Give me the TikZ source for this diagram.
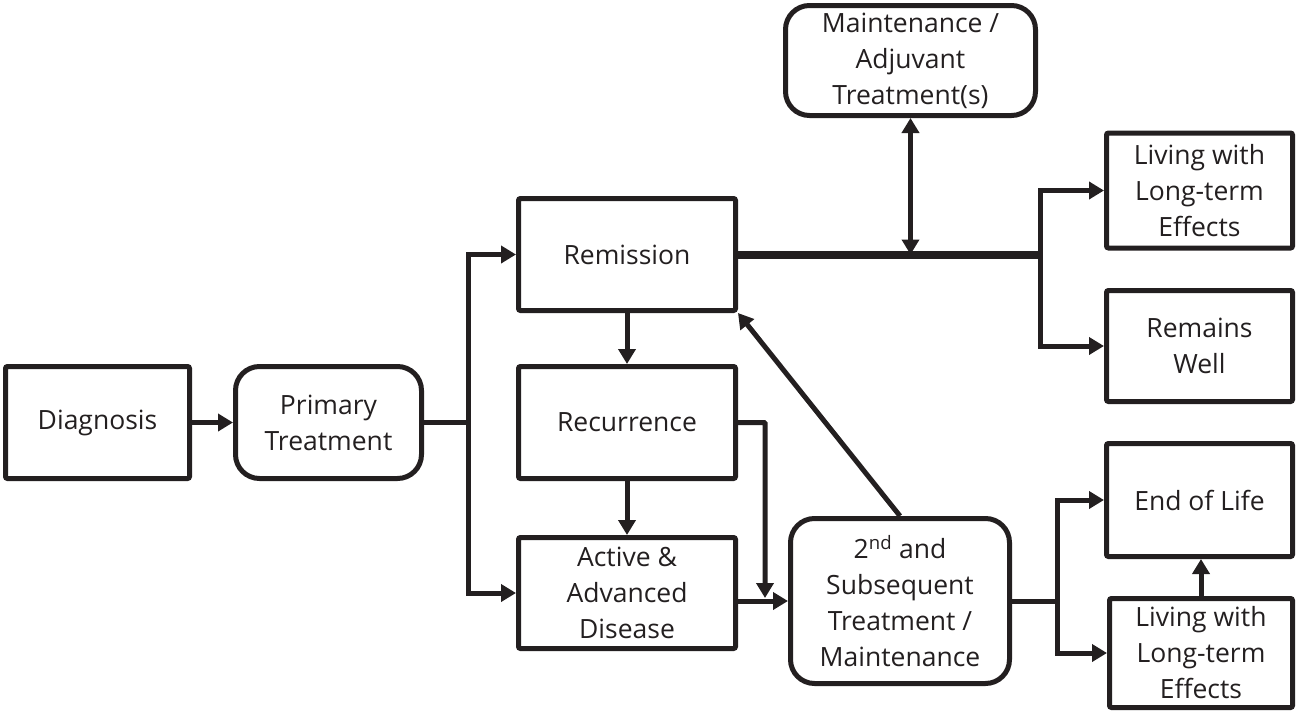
\documentclass[tikz,border=0pt]{standalone}
\usepackage{fontspec}
\setmainfont{Open Sans}
\usetikzlibrary{arrows.meta,calc}
\definecolor{ink}{HTML}{231F20}
\begin{document}
\begin{tikzpicture}[x=1pt,y=-1pt,
  every node/.style={font=\fontsize{26.5}{36}\selectfont,text=ink},
  sbox/.style={draw=ink,line width=5pt,rounded corners=2pt,align=center,inner sep=0pt},
  rbox/.style={sbox,rounded corners=24pt},
  conn/.style={draw=ink,line width=5pt},
  arr/.style={conn,-{Triangle[length=15pt,width=17pt]}},
  darr/.style={conn,{Triangle[length=15pt,width=17pt]}-{Triangle[length=15pt,width=17pt]}},
  thick line/.style={draw=ink,line width=8pt}]
\useasboundingbox (0,0) rectangle (1299,715);
% nodes
\node[sbox,minimum width=184pt,minimum height=112pt] (diag) at (97.5,422.5) {Diagnosis};
\node[rbox,minimum width=186pt,minimum height=112pt] (prim) at (328.5,422.5) {Primary\\Treatment};
\node[sbox,minimum width=217pt,minimum height=112pt] (rem) at (627,254.5) {Remission};
\node[sbox,minimum width=217pt,minimum height=112pt] (rec) at (627,422.5) {Recurrence};
\node[sbox,minimum width=217pt,minimum height=111pt] (act) at (627,593) {Active \&\\Advanced\\Disease};
\node[rbox,minimum width=219pt,minimum height=165pt] (sec) at (900,601) {2\textsuperscript{nd} and\\Subsequent\\Treatment /\\Maintenance};
\node[rbox,minimum width=250pt,minimum height=110pt] (maint) at (910.5,60.5) {Maintenance /\\Adjuvant\\Treatment(s)};
\node[sbox,minimum width=186pt,minimum height=115pt] (liv1) at (1199.5,190.5) {Living with\\Long-term\\Effects};
\node[sbox,minimum width=186pt,minimum height=111pt] (well) at (1199.5,346) {Remains\\Well};
\node[sbox,minimum width=186pt,minimum height=113pt] (eol) at (1199.5,500) {End of Life};
\node[sbox,minimum width=183pt,minimum height=109pt] (liv2) at (1201,653) {Living with\\Long-term\\Effects};
% junction coordinates
\coordinate (b1) at (468,422.5);
\coordinate (jn) at (765,598);
\coordinate (b2) at (1040,254.5);
\coordinate (b3) at (1057,601);
% connectors
\draw[arr] (diag) -- (prim);
\draw[conn] (prim.east) -- (b1);
\draw[arr] (b1) |- (rem.west);
\draw[arr] (b1) |- (act.west);
\draw[arr] (rem) -- (rec);
\draw[arr] (rec) -- (act);
\draw[arr] (act.east |- sec.west) -- (sec.west);
\draw[arr,rounded corners=1pt] (rec.east) -| (jn);
\draw[arr] (sec.north) -- (rem.south east);
\draw[thick line] (rem.east) -- (b2);
\draw[darr] (maint.south) -- (maint.south |- rem.east);
\draw[arr] (b2) |- (liv1.west);
\draw[arr] (b2) |- (well.west);
\draw[conn] (sec.east) -- (b3);
\draw[arr] (b3) |- (eol.west);
\draw[arr] (b3) |- (liv2.west);
\draw[arr] (liv2.north) -- (liv2.north |- eol.south);
\end{tikzpicture}
\end{document}
